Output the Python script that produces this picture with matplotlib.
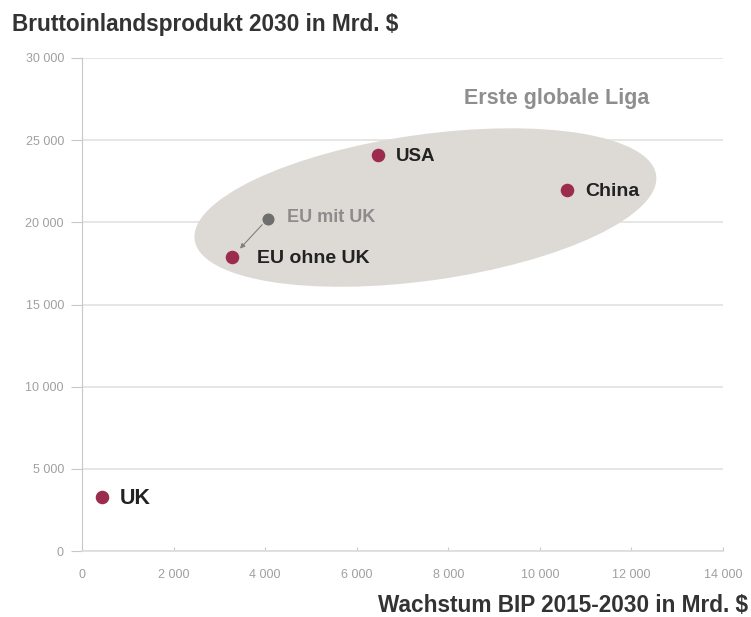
# BIP 2030 vs. Wachstum 2015-2030 (Streudiagramm)

import matplotlib.pyplot as plt
from matplotlib.patches import Ellipse
from matplotlib.transforms import IdentityTransform, ScaledTranslation

plt.rcParams['font.family'] = ['Liberation Sans', 'DejaVu Sans']

# Daten
laender = ['UK', 'EU ohne UK', 'USA', 'China']
wachstum = [430, 3280, 6460, 10590]       # Mrd. $
bip_2030 = [3300, 17900, 24100, 21950]     # Mrd. $
label_size = [15.5, 14, 13.5, 14]
label_dx = [13, 18, 13, 13]

eu_mit_uk = (4060, 20230)
pfeil_ende = (3450, 18400)

x_ticks = [0, 2000, 4000, 6000, 8000, 10000, 12000, 14000]
y_ticks = [0, 5000, 10000, 15000, 20000, 25000, 30000]

liga_mitte = (7500, 20900)
liga_text = (10370, 27550)

rot = '#9c2c4d'
grau = '#6e6e6e'


def fmt(v):
    return f'{v:,}'.replace(',', ' ')


fig = plt.figure(figsize=(7.51, 6.17), dpi=100)
ax = fig.add_axes([82 / 751, 1 - 551 / 617, 641 / 751, 493 / 617])

ax.set_xlim(0, 14000)
ax.set_ylim(0, 30000)

# Ellipse "Erste globale Liga" in Pixeln um den Mittelpunkt
ell = Ellipse((0, 0), width=466, height=146, angle=8, facecolor='#ddd9d5',
              edgecolor='none', zorder=1,
              transform=IdentityTransform() + ScaledTranslation(liga_mitte[0], liga_mitte[1], ax.transData))
ax.add_patch(ell)
ax.text(liga_text[0], liga_text[1], 'Erste globale Liga', fontsize=15.5, fontweight='bold',
        color='#8e8e8e', ha='center', va='center', zorder=3)

ax.scatter(wachstum, bip_2030, s=95, color=rot, zorder=4, linewidths=0)
for name, x, y, fs, dx in zip(laender, wachstum, bip_2030, label_size, label_dx):
    ax.annotate(name, (x, y), xytext=(dx, -1), textcoords='offset points', fontsize=fs,
                fontweight='bold', color='#222222', va='center', zorder=5)

ax.scatter([eu_mit_uk[0]], [eu_mit_uk[1]], s=75, color=grau, zorder=4, linewidths=0)
ax.annotate('EU mit UK', eu_mit_uk, xytext=(14, 1), textcoords='offset points', fontsize=13,
            fontweight='bold', color='#8c8c8c', va='center', zorder=5)
ax.annotate('', xy=pfeil_ende, xytext=eu_mit_uk, zorder=3,
            arrowprops=dict(arrowstyle='-|>', color='#808080', lw=0.8, shrinkA=6, shrinkB=0,
                            mutation_scale=7))

ax.set_xticks(x_ticks)
ax.set_yticks(y_ticks)
ax.set_xticklabels([fmt(v) for v in x_ticks])
ax.set_yticklabels([fmt(v) for v in y_ticks])
ax.tick_params(axis='y', length=8, width=0.8, color='#c8c8c8', labelcolor='#a0a0a0',
               labelsize=9, pad=5)
ax.tick_params(axis='x', direction='in', length=3, width=0.8, color='#c8c8c8',
               labelcolor='#a0a0a0', labelsize=9, pad=13)

ax.grid(axis='y', color='#e2e2e2', lw=1.2)
ax.set_axisbelow(True)
for s in ['top', 'right']:
    ax.spines[s].set_visible(False)
ax.spines['left'].set_color('#c8c8c8')
ax.spines['bottom'].set_color('#dcdcdc')
ax.spines['bottom'].set_linewidth(1.2)

fig.text(12 / 751, 1 - 25 / 617, 'Bruttoinlandsprodukt 2030 in Mrd. $', fontsize=16.3,
         fontweight='bold', color='#333333', ha='left', va='center')
fig.text(748 / 751, 1 - 606 / 617, 'Wachstum BIP 2015-2030 in Mrd. $', fontsize=16.3,
         fontweight='bold', color='#333333', ha='right', va='center')

fig.savefig('out.png', dpi=100)
